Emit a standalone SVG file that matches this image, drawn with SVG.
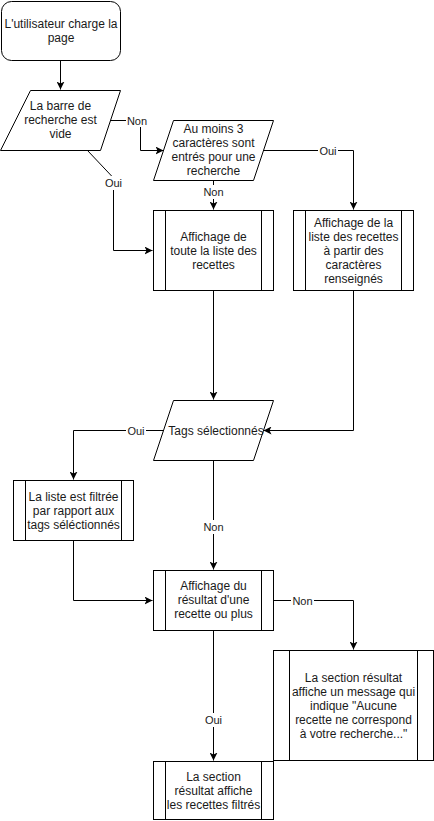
<svg xmlns="http://www.w3.org/2000/svg" width="434" height="821" viewBox="0 0 434 821">
  <style>
    .shape { fill: #ffffff; stroke: #000000; stroke-width: 1; }
    .inner { fill: none; stroke: #000000; stroke-width: 1; }
    .edge { fill: none; stroke: #000000; stroke-width: 1; }
    .txt { font-family: "Liberation Sans", Arial, sans-serif; font-size: 12px; fill: #1a1a1a; text-anchor: middle; dominant-baseline: central; }
    .lbl { font-family: "Liberation Sans", Arial, sans-serif; font-size: 11px; fill: #1a1a1a; text-anchor: middle; dominant-baseline: central; }
    .lblbg { fill: #ffffff; stroke: none; }
  </style>
  <defs>
    <marker id="arrow" viewBox="0 0 8 8" refX="8" refY="4" markerWidth="8" markerHeight="8" markerUnits="userSpaceOnUse" orient="auto">
      <path d="M0,0 L8,4 L0,8 L2,4 z" fill="#000000"/>
    </marker>
  </defs>
  <rect width="434" height="821" fill="#ffffff"/>

  <!-- connectors -->
  <g id="connectors">
    <path class="edge" d="M60.5,60.5 V89.5" marker-end="url(#arrow)"/>
    <!-- empty search bar: Non -->
    <path class="edge" d="M110.5,120.5 H140.5 V150.5 H163.5" marker-end="url(#arrow)"/>
    <!-- empty search bar: Oui -->
    <path class="edge" d="M87.5,150.5 L113.5,178 M113.5,178 V250.5 H152.5" marker-end="url(#arrow)"/>
    <!-- 3 characters: Oui -->
    <path class="edge" d="M263.5,150.5 H353.5 V209.5" marker-end="url(#arrow)"/>
    <!-- 3 characters: Non -->
    <path class="edge" d="M213.5,180.5 V209.5" marker-end="url(#arrow)"/>
    <path class="edge" d="M213.5,290.5 V399.5" marker-end="url(#arrow)"/>
    <path class="edge" d="M353.5,290.5 V430.5 H263.5" marker-end="url(#arrow)"/>
    <!-- tags: Oui -->
    <path class="edge" d="M163.5,430.5 H73.5 V479.5" marker-end="url(#arrow)"/>
    <!-- tags: Non -->
    <path class="edge" d="M213.5,460.5 V569.5" marker-end="url(#arrow)"/>
    <path class="edge" d="M73.5,540.5 V600.5 H152.5" marker-end="url(#arrow)"/>
    <!-- result: Non -->
    <path class="edge" d="M273.5,600.5 H353.5 V649.5" marker-end="url(#arrow)"/>
    <!-- result: Oui -->
    <path class="edge" d="M213.5,630.5 V760.5" marker-end="url(#arrow)"/>

    <!-- edge labels -->
    <rect class="lblbg" x="126" y="113" width="22" height="14"/>
    <text class="lbl" x="137" y="120.5">Non</text>
    <rect class="lblbg" x="103" y="176" width="21" height="14"/>
    <text class="lbl" x="113.5" y="183">Oui</text>
    <rect class="lblbg" x="318" y="143" width="20" height="14"/>
    <text class="lbl" x="328" y="151">Oui</text>
    <rect class="lblbg" x="202" y="185" width="23" height="14"/>
    <text class="lbl" x="213.5" y="192">Non</text>
    <rect class="lblbg" x="126" y="423" width="20" height="14"/>
    <text class="lbl" x="136" y="430.5">Oui</text>
    <rect class="lblbg" x="202" y="520" width="23" height="14"/>
    <text class="lbl" x="213.5" y="527">Non</text>
    <rect class="lblbg" x="291" y="593" width="23" height="14"/>
    <text class="lbl" x="302.5" y="600.5">Non</text>
    <rect class="lblbg" x="203" y="713" width="21" height="14"/>
    <text class="lbl" x="213.5" y="720">Oui</text>
  </g>

  <g id="start">
    <rect class="shape" x="1.5" y="1.5" width="119" height="59" rx="10" ry="10"/>
    <text class="txt" x="61" y="24">L'utilisateur charge la</text>
    <text class="txt" x="61" y="38">page</text>
  </g>

  <g id="search-empty">
    <polygon class="shape" points="30.5,90.5 120.5,90.5 100.5,150.5 0.5,150.5"/>
    <text class="txt" x="60.5" y="106">La barre de</text>
    <text class="txt" x="60.5" y="120">recherche est</text>
    <text class="txt" x="60.5" y="134">vide</text>
  </g>

  <g id="three-chars">
    <polygon class="shape" points="173.5,120.5 273.5,120.5 253.5,180.5 153.5,180.5"/>
    <text class="txt" x="213.5" y="129">Au moins 3</text>
    <text class="txt" x="213.5" y="143">caractères sont</text>
    <text class="txt" x="213.5" y="157">entrés pour une</text>
    <text class="txt" x="213.5" y="171">recherche</text>
  </g>

  <g id="show-all">
    <rect class="shape" x="153.5" y="210.5" width="120" height="80"/>
    <path class="inner" d="M165.5,210.5 V290.5 M261.5,210.5 V290.5"/>
    <text class="txt" x="213.5" y="237">Affichage de</text>
    <text class="txt" x="213.5" y="251">toute la liste des</text>
    <text class="txt" x="213.5" y="265">recettes</text>
  </g>

  <g id="show-matching">
    <rect class="shape" x="293.5" y="210.5" width="120" height="80"/>
    <path class="inner" d="M305.5,210.5 V290.5 M401.5,210.5 V290.5"/>
    <text class="txt" x="353.5" y="223">Affichage de la</text>
    <text class="txt" x="353.5" y="237">liste des recettes</text>
    <text class="txt" x="353.5" y="251">à partir des</text>
    <text class="txt" x="353.5" y="265">caractères</text>
    <text class="txt" x="353.5" y="279">renseignés</text>
  </g>

  <g id="tags">
    <polygon class="shape" points="173.5,400.5 273.5,400.5 253.5,460.5 153.5,460.5"/>
    <text class="txt" x="216" y="430.5">Tags sélectionnés</text>
  </g>

  <g id="filtered">
    <rect class="shape" x="13.5" y="480.5" width="120" height="60"/>
    <path class="inner" d="M25.5,480.5 V540.5 M121.5,480.5 V540.5"/>
    <text class="txt" x="73.5" y="497">La liste est filtrée</text>
    <text class="txt" x="73.5" y="511">par rapport aux</text>
    <text class="txt" x="73.5" y="525">tags séléctionnés</text>
  </g>

  <g id="result">
    <rect class="shape" x="153.5" y="570.5" width="120" height="60"/>
    <path class="inner" d="M165.5,570.5 V630.5 M261.5,570.5 V630.5"/>
    <text class="txt" x="213.5" y="586">Affichage du</text>
    <text class="txt" x="213.5" y="600">résultat d'une</text>
    <text class="txt" x="213.5" y="614">recette ou plus</text>
  </g>

  <g id="no-result">
    <rect class="shape" x="273.5" y="650.5" width="160" height="110"/>
    <path class="inner" d="M289.5,650.5 V760.5 M417.5,650.5 V760.5"/>
    <text class="txt" x="353.5" y="678">La section résultat</text>
    <text class="txt" x="353.5" y="692">affiche un message qui</text>
    <text class="txt" x="353.5" y="706">indique "Aucune</text>
    <text class="txt" x="353.5" y="720">recette ne correspond</text>
    <text class="txt" x="353.5" y="734">à votre recherche..."</text>
  </g>

  <g id="show-filtered">
    <rect class="shape" x="153.5" y="761.5" width="120" height="58"/>
    <path class="inner" d="M165.5,761.5 V819.5 M261.5,761.5 V819.5"/>
    <text class="txt" x="213.5" y="777">La section</text>
    <text class="txt" x="213.5" y="791">résultat affiche</text>
    <text class="txt" x="213.5" y="805">les recettes filtrés</text>
  </g>
</svg>
